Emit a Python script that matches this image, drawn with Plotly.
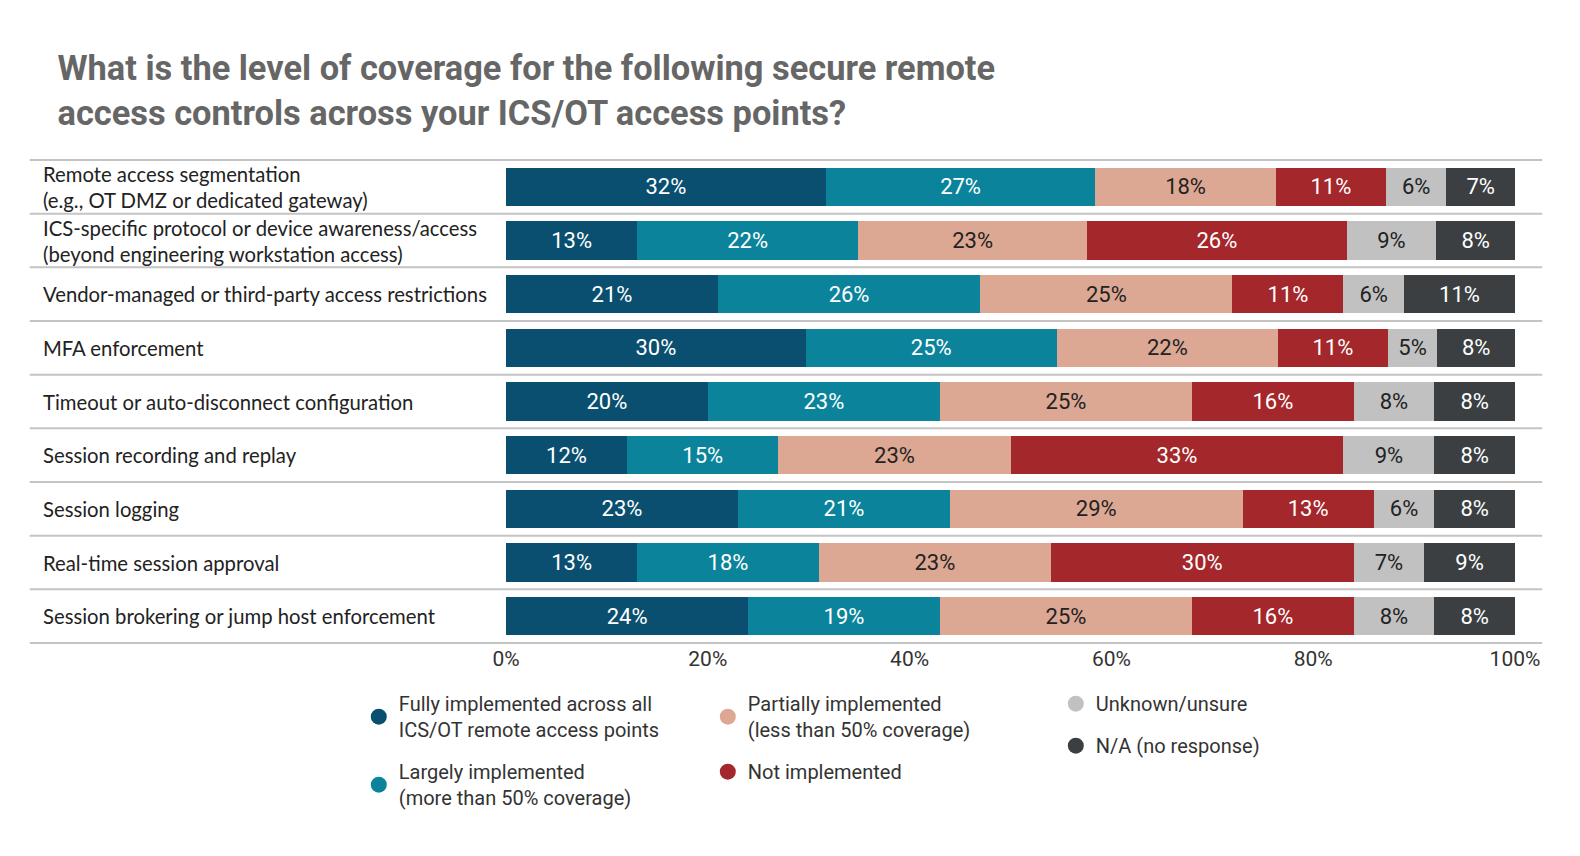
import plotly.graph_objects as go

categories = [
    "Remote access segmentation<br>(e.g., OT DMZ or dedicated gateway)",
    "ICS-specific protocol or device awareness/access<br>(beyond engineering workstation access)",
    "Vendor-managed or third-party access restrictions",
    "MFA enforcement",
    "Timeout or auto-disconnect configuration",
    "Session recording and replay",
    "Session logging",
    "Real-time session approval",
    "Session brokering or jump host enforcement",
]

series_names = [
    "Fully implemented across all<br>ICS/OT remote access points",
    "Largely implemented<br>(more than 50% coverage)",
    "Partially implemented<br>(less than 50% coverage)",
    "Not implemented",
    "Unknown/unsure",
    "N/A (no response)",
]

fully     = [31.7, 13.0, 21.0, 29.7, 20.0, 12.0, 23.0, 13.0, 24.0]
largely   = [26.7, 21.9, 26.0, 24.9, 23.0, 15.0, 21.0, 18.0, 19.0]
partially = [17.9, 22.7, 25.0, 21.9, 25.0, 23.0, 29.0, 23.0, 25.0]
not_impl  = [10.9, 25.7, 11.0, 10.9, 16.0, 33.0, 13.0, 30.0, 16.0]
unknown   = [6.0, 8.9, 6.0, 4.9, 8.0, 9.0, 6.0, 7.0, 8.0]
na        = [6.8, 7.8, 11.0, 7.7, 8.0, 8.0, 8.0, 9.0, 8.0]

tick_vals = [0, 20, 40, 60, 80, 100]
tick_text = ["0%", "20%", "40%", "60%", "80%", "100%"]

colors = ["#0a4f6f", "#0b849b", "#dca893", "#a3272b", "#c1c1c1", "#3b3f42"]
text_colors = ["white", "white", "#222222", "white", "#222222", "white"]
legend_ids = ["legend", "legend", "legend2", "legend2", "legend3", "legend3"]

COND = "Roboto, sans-serif"
LABEL_FONT = "Lato, sans-serif"

W, H = 1564, 840

fig = go.Figure()
all_series = [fully, largely, partially, not_impl, unknown, na]
for name, vals, c, tc in zip(series_names, all_series, colors, text_colors):
    fig.add_trace(go.Bar(
        y=categories, x=vals, orientation="h", name=name,
        marker=dict(color=c, line=dict(width=0)),
        width=0.71,
        texttemplate="%{x:.0f}%", textposition="inside", insidetextanchor="middle",
        textfont=dict(family=COND, size=22, color=tc),
        showlegend=False, hoverinfo="skip",
    ))

for i, (name, c, lg) in enumerate(zip(series_names, colors, legend_ids)):
    fig.add_trace(go.Scatter(
        x=[None], y=[None], mode="markers", name=name,
        marker=dict(color=c, size=16, symbol="circle"),
        legend=lg, legendgroup=str(i), showlegend=True,
    ))

# row separators
for i in range(len(categories) + 1):
    fig.add_shape(type="line", xref="paper", yref="y",
                  x0=-0.472, x1=1.027, y0=i - 0.5, y1=i - 0.5,
                  line=dict(color="#c4c4c4", width=2), layer="below")

# category labels left-aligned
for cat in categories:
    fig.add_annotation(xref="paper", yref="y", x=-0.461, y=cat, text=cat,
                       showarrow=False, xanchor="left", yanchor="middle", align="left",
                       font=dict(family=LABEL_FONT, size=20.3, color="#222222"))

legend_common = dict(
    orientation="v", xanchor="left", yanchor="top",
    font=dict(family=COND, size=20, color="#333333"),
    bgcolor="rgba(0,0,0,0)", tracegroupgap=13, itemsizing="trace",
)

fig.update_layout(
    width=W, height=H,
    margin=dict(l=497.5, r=57, t=150.5, b=204),
    paper_bgcolor="white", plot_bgcolor="white",
    barmode="stack", bargap=0.29,
    title=dict(
        text="What is the level of coverage for the following secure remote<br>access controls across your ICS/OT access points?",
        x=49.5 / W, xanchor="left", y=1 - 72 / H, yanchor="top",
        font=dict(family=COND, size=34.4, color="#666666", weight="bold"),
    ),
    xaxis=dict(range=[0, 100], tickvals=tick_vals, ticktext=tick_text,
               showgrid=False, zeroline=False, showline=False, ticks="",
               tickfont=dict(family=COND, size=21, color="#333333")),
    yaxis=dict(autorange="reversed", showticklabels=False, showgrid=False,
               zeroline=False, showline=False, ticks=""),
    legend=dict(x=-0.1459, y=-0.0828, **legend_common),
    legend2=dict(x=0.2, y=-0.0828, **legend_common),
    legend3=dict(x=0.5449, y=-0.0828, **legend_common),
)

fig.write_html("out.html")
